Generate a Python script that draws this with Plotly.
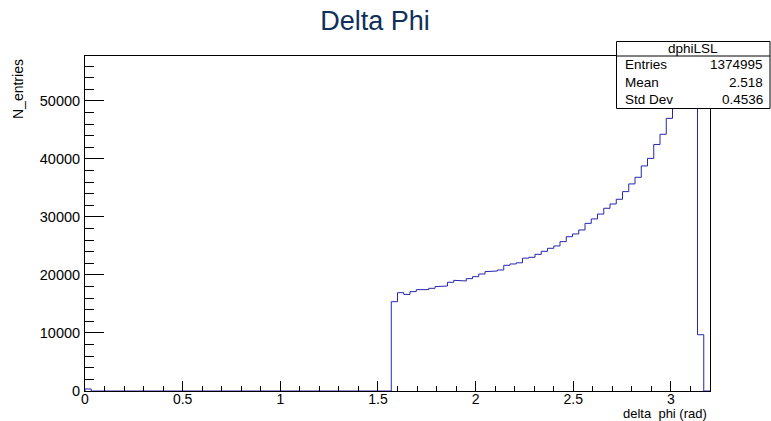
import numpy as np
import plotly.graph_objects as go

# ---------------- data ----------------
x_min = 0.0
x_max = 3.2
n_bins = 100

# bin contents (100 bins of 0.032 rad)
counts = ([350] + [0] * 48 +
          [15400, 16950, 16650, 17130, 17470, 17480, 17700, 17990, 18100, 18740,
           19080, 18970, 19370, 19710, 20170, 20570, 20690, 20860, 21670, 21900,
           22100, 22900, 23050, 23560, 24080, 24600, 25000, 25750, 26600, 27070,
           27760, 28900, 29660, 30500, 31500, 32240, 33050, 34370, 35700, 36840,
           38800, 40100, 42500, 44260, 47000, 49800, 52000, 53600, 55000, 9700,
           0])

stats_name = "dphiLSL"
stats_labels = ["Entries", "Mean", "Std Dev"]
stats_values = ["1374995", "2.518", "0.4536"]

title_text = "Delta Phi"
x_title = "delta\u00a0 phi (rad)"
y_title = "N_entries"

# ---------------- geometry ----------------
W, H = 771, 421
L, R, T, B = 85, 710, 56, 391  # plot frame in pixels

def px(x):
    return (x - L) / (R - L)

def py(y):
    return (B - y) / (B - T)

edges = x_min + (x_max - x_min) / n_bins * np.arange(n_bins + 1)
xs = [edges[0]]
ys = [0]
for i, c in enumerate(counts):
    xs += [edges[i], edges[i + 1]]
    ys += [c, c]
xs.append(edges[-1])
ys.append(0)

ymax = 1.05 * max(counts)

font_family = "Liberation Sans, Arial, Helvetica, sans-serif"

fig = go.Figure()
fig.add_trace(go.Scatter(x=xs, y=ys, mode="lines",
                         line=dict(color="#2626b0", width=1),
                         hoverinfo="skip", showlegend=False))

fig.update_layout(
    width=W, height=H,
    margin=dict(l=L, r=W - R, t=T, b=H - B, pad=0, autoexpand=False),
    paper_bgcolor="white", plot_bgcolor="white",
    font=dict(family=font_family, size=14.5, color="black"),
    showlegend=False,
    title=dict(text=title_text, x=375 / W, xref="container", xanchor="center",
               y=1 - 21 / H, yref="container", yanchor="middle",
               font=dict(size=27, color="#10305a", family=font_family)),
)

fig.update_xaxes(
    range=[x_min, x_max], showgrid=False, zeroline=False, automargin=False,
    showline=True, linecolor="black", linewidth=1, mirror=True,
    ticks="inside", ticklen=10, tickwidth=1, tickcolor="black",
    tick0=0, dtick=0.5,
    ticklabelstandoff=-5,
    tickfont=dict(size=14, color="black"),
    minor=dict(ticks="inside", ticklen=5, tickcolor="black", tickwidth=1,
               dtick=0.1, tick0=0, showgrid=False),
)
fig.update_yaxes(
    range=[0, ymax], showgrid=False, zeroline=False, automargin=False,
    showline=True, linecolor="black", linewidth=1, mirror=True,
    ticks="inside", ticklen=19, tickwidth=1, tickcolor="black",
    tick0=0, dtick=10000, tickformat="d",
    ticklabelstandoff=1,
    tickfont=dict(size=14.5, color="black"),
    minor=dict(ticks="inside", ticklen=9, tickcolor="black", tickwidth=1,
               dtick=2000, tick0=0, showgrid=False),
)

# axis titles
fig.add_annotation(text=x_title, xref="paper", yref="paper",
                   x=px(708), y=py(413.5), xanchor="right", yanchor="middle",
                   showarrow=False, borderpad=0,
                   font=dict(size=13, color="black"))
fig.add_annotation(text=y_title, xref="paper", yref="paper",
                   x=px(18), y=py(57), xanchor="center", yanchor="top",
                   textangle=-90, showarrow=False,
                   font=dict(size=14, color="black"))

# stats box
bx0, bx1, by0, by1, bsep = 616.5, 770, 41.5, 108.5, 56
fig.add_shape(type="rect", xref="paper", yref="paper",
              x0=px(bx0), x1=px(bx1), y0=py(by1), y1=py(by0),
              line=dict(color="black", width=1), fillcolor="white",
              layer="above")
fig.add_shape(type="line", xref="paper", yref="paper",
              x0=px(bx0), x1=px(bx1), y0=py(bsep), y1=py(bsep),
              line=dict(color="black", width=1), layer="above")
fig.add_annotation(text=stats_name, xref="paper", yref="paper",
                   x=px((bx0 + bx1) / 2), y=py(48.5), xanchor="center",
                   yanchor="middle", showarrow=False,
                   font=dict(size=13.5, color="black"))
row_y = [64.5, 82, 99.5]
for lab, val, yy in zip(stats_labels, stats_values, row_y):
    fig.add_annotation(text=lab, xref="paper", yref="paper",
                       x=px(623), y=py(yy), xanchor="left", yanchor="middle",
                       showarrow=False, font=dict(size=13.5, color="black"))
    fig.add_annotation(text=val, xref="paper", yref="paper",
                       x=px(765), y=py(yy), xanchor="right", yanchor="middle",
                       showarrow=False, font=dict(size=13.5, color="black"))

fig.write_html("out.html")
